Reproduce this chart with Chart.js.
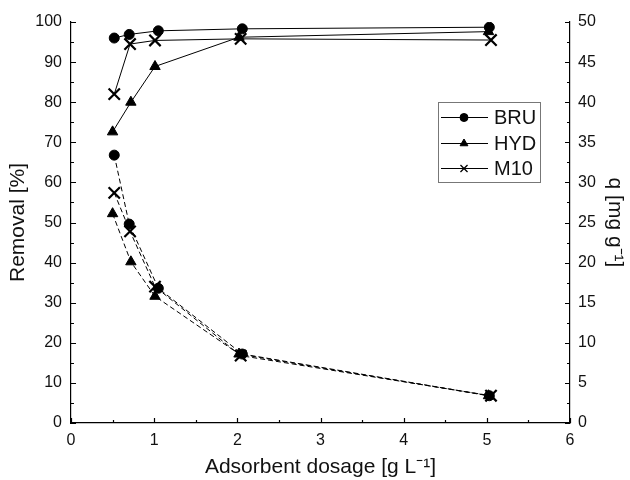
<!DOCTYPE html>
<html>
<head>
<meta charset="utf-8">
<script src="https://cdn.jsdelivr.net/npm/chart.js@4.4.0/dist/chart.umd.min.js"></script>
<style>
    html, body { margin: 0; padding: 0; background: #fff; }
    #wrap { width: 630px; height: 480px; }
</style>
</head>
<body>
<div id="wrap"><canvas id="chart"></canvas></div>
<script>
// series names
var seriesNames = ['BRU', 'HYD', 'M10'];

// dosage [g/L] per series
var bruDose = [0.52, 0.70, 1.05, 2.06, 5.03];
var hydDose = [0.50, 0.72, 1.01, 2.02, 5.02];
var m10Dose = [0.52, 0.71, 1.01, 2.04, 5.05];

// removal [%]
var bruRemoval = [96.0, 96.9, 97.8, 98.3, 98.7];
var hydRemoval = [72.6, 80.0, 88.9, 96.2, 97.6];
var m10Removal = [82.0, 94.5, 95.4, 95.8, 95.5];

// q [mg/g]
var bruQ = [33.4, 24.8, 16.8, 8.6, 3.4];
var hydQ = [26.1, 20.1, 15.8, 8.6, 3.4];
var m10Q = [28.7, 23.9, 17.0, 8.4, 3.4];

var xTicks = [0, 1, 2, 3, 4, 5, 6];

var markers = ['circle', 'triangle', 'crossRot'];

function pts(xs, ys) {
    return xs.map((x, i) => ({ x: x, y: ys[i] }));
}

function ds(label, data, marker, axis, dashed) {
    return {
        label: label,
        data: data,
        yAxisID: axis,
        borderColor: '#000',
        backgroundColor: '#000',
        borderWidth: 1,
        borderDash: dashed ? [5, 3] : [],
        pointStyle: marker,
        pointRadius: marker === 'circle' ? 5 : (marker === 'triangle' ? 6 : 8),
        pointBorderWidth: marker === 'crossRot' ? 2.2 : 1,
        pointBorderColor: '#000',
        pointBackgroundColor: '#000',
        tension: 0,
        fill: false
    };
}

// inward ticks + legend box
var framePlugin = {
    id: 'frame',
    afterDraw(chart) {
        let ctx = chart.ctx;
        let s = chart.scales;
        let area = chart.chartArea;
        ctx.save();
        ctx.strokeStyle = '#000';
        ctx.lineWidth = 1.2;
        ctx.beginPath();
        // x ticks
        for (let v = 0; v <= 6; v += 0.5) {
            let px = Math.round(s.x.getPixelForValue(v)) + 0.5;
            let len = (v % 1 === 0) ? 5 : 3;
            ctx.moveTo(px, area.bottom);
            ctx.lineTo(px, area.bottom - len);
        }
        // left ticks
        for (let v = 0; v <= 100; v += 5) {
            let py = Math.round(s.y.getPixelForValue(v)) + 0.5;
            let len = (v % 10 === 0) ? 5 : 3;
            ctx.moveTo(area.left, py);
            ctx.lineTo(area.left + len, py);
        }
        // right ticks
        for (let v = 0; v <= 50; v += 2.5) {
            let py = Math.round(s.y2.getPixelForValue(v)) + 0.5;
            let len = (v % 5 === 0) ? 5 : 3;
            ctx.moveTo(area.right, py);
            ctx.lineTo(area.right - len, py);
        }
        ctx.stroke();

        // legend
        let bx = 438, by = 102, bw = 102, bh = 80;
        ctx.strokeStyle = '#777';
        ctx.lineWidth = 1;
        ctx.strokeRect(bx + 0.5, by + 0.5, bw, bh);
        ctx.font = '20px "Liberation Sans", Arial, sans-serif';
        ctx.fillStyle = '#111';
        ctx.textBaseline = 'middle';
        let rows = [117, 143, 168];
        let legendMarks = [
            { radius: 4, width: 1 },
            { radius: 4.5, width: 1 },
            { radius: 5, width: 1.3 }
        ];
        seriesNames.forEach((name, i) => {
            let y = rows[i] + 0.5;
            ctx.strokeStyle = '#000';
            ctx.fillStyle = '#000';
            ctx.lineWidth = 1;
            ctx.setLineDash([]);
            ctx.beginPath();
            ctx.moveTo(441, y);
            ctx.lineTo(488, y);
            ctx.stroke();
            ctx.lineWidth = legendMarks[i].width;
            Chart.helpers.drawPoint(ctx, {
                pointStyle: markers[i],
                radius: legendMarks[i].radius,
                borderWidth: legendMarks[i].width,
                rotation: 0
            }, 464, y);
            ctx.fillStyle = '#111';
            ctx.fillText(name, 494, y + 1);
        });
        ctx.restore();
    }
};

var font = '"Liberation Sans", Arial, sans-serif';

new Chart(document.getElementById('chart').getContext('2d'), {
    type: 'line',
    data: {
        datasets: [
            ds(seriesNames[0], pts(bruDose, bruRemoval), markers[0], 'y', false),
            ds(seriesNames[1], pts(hydDose, hydRemoval), markers[1], 'y', false),
            ds(seriesNames[2], pts(m10Dose, m10Removal), markers[2], 'y', false),
            ds(seriesNames[0], pts(bruDose, bruQ), markers[0], 'y2', true),
            ds(seriesNames[1], pts(hydDose, hydQ), markers[1], 'y2', true),
            ds(seriesNames[2], pts(m10Dose, m10Q), markers[2], 'y2', true)
        ]
    },
    options: {
        responsive: true,
        maintainAspectRatio: false,
        animation: false,
        layout: { padding: { top: 22, left: 0, right: 0, bottom: 0 } },
        plugins: {
            legend: { display: false },
            tooltip: { enabled: false }
        },
        scales: {
            x: {
                type: 'linear',
                min: 0,
                max: 6,
                afterBuildTicks: (scale) => { scale.ticks = xTicks.map(v => ({ value: v })); },
                afterFit: (scale) => { scale.height = 57; },
                grid: { display: true, drawOnChartArea: false, drawTicks: false },
                border: { display: true, color: '#000', width: 1.2 },
                ticks: { color: '#111', padding: 8, font: { size: 16, family: font } },
                title: {
                    display: true,
                    text: 'Adsorbent dosage [g L\u207B\u00B9]',
                    color: '#111',
                    font: { size: 21, family: font },
                    padding: { top: 0, bottom: 0 }
                }
            },
            y: {
                position: 'left',
                min: 0,
                max: 100,
                afterFit: (scale) => { scale.width = 71; },
                grid: { display: true, drawOnChartArea: false, drawTicks: false },
                border: { display: true, color: '#000', width: 1.2 },
                ticks: { stepSize: 10, color: '#111', padding: 9, font: { size: 16, family: font } },
                title: {
                    display: true,
                    text: 'Removal [%]',
                    color: '#111',
                    font: { size: 21, family: font },
                    padding: { top: 6, bottom: 0 }
                }
            },
            y2: {
                position: 'right',
                min: 0,
                max: 50,
                afterFit: (scale) => { scale.width = 60; },
                grid: { display: true, drawOnChartArea: false, drawTicks: false },
                border: { display: true, color: '#000', width: 1.2 },
                ticks: { stepSize: 5, color: '#111', padding: 8, font: { size: 16, family: font } },
                title: {
                    display: true,
                    text: 'q [mg g\u207B\u00B9]',
                    color: '#111',
                    font: { size: 21, family: font },
                    padding: { top: 3, bottom: 0 }
                }
            }
        }
    },
    plugins: [framePlugin]
});
</script>
</body>
</html>
